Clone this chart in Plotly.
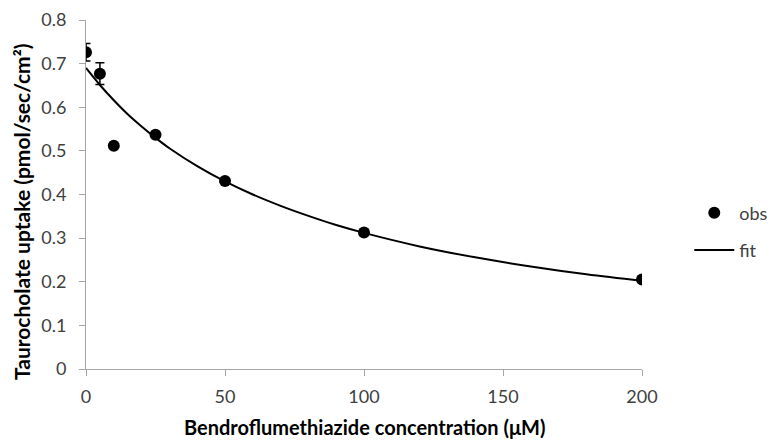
import plotly.graph_objects as go

# observed data
obs_x = [0, 5, 10, 25, 50, 100, 200]
obs_y = [0.726, 0.677, 0.512, 0.537, 0.431, 0.313, 0.205]
obs_err = [0.020, 0.025, 0, 0, 0, 0, 0]

# fitted curve
fit_x = [0, 5, 10, 15, 20, 25, 30, 40, 50, 60, 70, 80, 90, 100, 120, 140, 160, 180, 200]
fit_y = [0.690, 0.651, 0.616, 0.584, 0.556, 0.530, 0.506, 0.465, 0.430, 0.400, 0.374,
         0.351, 0.330, 0.312, 0.281, 0.256, 0.235, 0.217, 0.202]

x_ticks = [0, 50, 100, 150, 200]
y_ticks = [0, 0.1, 0.2, 0.3, 0.4, 0.5, 0.6, 0.7, 0.8]

FONT = "Lato"
W, H = 771, 441
L, R, T, B = 85.5, 129, 20, 72

fig = go.Figure()
fig.add_trace(go.Scatter(
    x=obs_x, y=obs_y, mode="markers", name="obs", legendgroup="a",
    marker=dict(color="black", size=12),
    error_y=dict(type="data", array=obs_err, color="black", thickness=1.5, width=4.5),
))
fig.add_trace(go.Scatter(
    x=fit_x, y=fit_y, mode="lines", name="fit", legendgroup="b",
    line=dict(color="black", width=2, shape="spline"),
))

axis_common = dict(
    showgrid=False, zeroline=False, showline=True, linecolor="#a6a6a6", linewidth=1,
    ticks="outside", ticklen=6, tickcolor="#a6a6a6",
    tickfont=dict(family=FONT, size=18, color="#404040"),
)
fig.update_xaxes(range=[0, 200], tickvals=x_ticks, ticktext=[str(v) for v in x_ticks],
                 ticklabelstandoff=5, **axis_common)
fig.update_yaxes(range=[0, 0.8], tickvals=y_ticks, ticktext=[f"{v:g}" for v in y_ticks],
                 ticklabelstandoff=9, **axis_common)

pw = W - L - R
ph = H - T - B
fig.add_annotation(
    text="<b>Bendroflumethiazide concentration (μM)</b>",
    xref="paper", yref="paper", x=0.5, y=(H - B - 427) / ph,
    showarrow=False, font=dict(family=FONT, size=20, color="black"),
    xanchor="center", yanchor="middle",
)
fig.add_annotation(
    text="<b>Taurocholate uptake (pmol/sec/cm²)</b>",
    xref="paper", yref="paper", x=(21 - L) / pw, y=(H - B - 211.5) / ph,
    showarrow=False, font=dict(family=FONT, size=21, color="black"),
    textangle=-90, xanchor="center", yanchor="middle",
)

fig.update_layout(
    width=W, height=H,
    margin=dict(l=L, r=R, t=T, b=B, autoexpand=False),
    paper_bgcolor="white", plot_bgcolor="white",
    showlegend=True,
    legend=dict(x=1.085, y=0.50, xanchor="left", yanchor="top", itemwidth=40,
                font=dict(family=FONT, size=18, color="#404040"),
                tracegroupgap=11, bgcolor="rgba(0,0,0,0)"),
)

fig.write_html("out.html")
